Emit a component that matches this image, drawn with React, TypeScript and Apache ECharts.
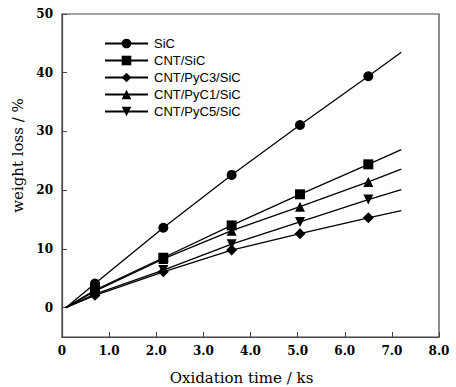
import React, { useEffect, useRef } from "react";
import * as echarts from "echarts";

const xStart = 0.08;
const xMarks = [0.7, 2.15, 3.6, 5.05, 6.5];
const xEnd = 7.2;

const seriesNames = ["SiC", "CNT/SiC", "CNT/PyC3/SiC", "CNT/PyC1/SiC", "CNT/PyC5/SiC"];
const sicVals = [4.1, 13.6, 22.6, 31.1, 39.4];
const sicEnd = 43.5;
const cntVals = [3.0, 8.5, 14.0, 19.3, 24.4];
const cntEnd = 26.9;
const pyc3Vals = [2.1, 6.1, 9.8, 12.6, 15.3];
const pyc3End = 16.5;
const pyc1Vals = [2.8, 8.3, 13.1, 17.2, 21.4];
const pyc1End = 23.6;
const pyc5Vals = [2.3, 6.4, 10.8, 14.6, 18.4];
const pyc5End = 20.1;

const yTicks = [0, 10, 20, 30, 40, 50];

const symbols = ["circle", "rect", "diamond", "triangle", "triangle"];
const rotations = [0, 0, 0, 0, 180];
const sizes = [10, 10, 11, 10, 10];

function build(vals: number[], end: number) {
  const d: any[] = [{ value: [xStart, 0], symbol: "none" }];
  xMarks.forEach((x, i) => d.push({ value: [x, vals[i]] }));
  d.push({ value: [xEnd, end], symbol: "none" });
  return d;
}

export default function App() {
  const ref = useRef<HTMLDivElement>(null);
  useEffect(() => {
    if (!ref.current) return;
    document.body.style.margin = "0";
    const chart = echarts.init(ref.current, null, { renderer: "svg" });
    const all = [
      [sicVals, sicEnd],
      [cntVals, cntEnd],
      [pyc3Vals, pyc3End],
      [pyc1Vals, pyc1End],
      [pyc5Vals, pyc5End],
    ] as [number[], number][];
    const tickFont = { fontFamily: "DejaVu Serif", fontWeight: "bold" as const, fontSize: 12, color: "#000" };
    chart.setOption({
      animation: false,
      grid: {
        left: 62, top: 14, right: 17, bottom: 50,
        show: true, borderColor: "#444", borderWidth: 1.2,
        outerBoundsMode: "none", containLabel: false,
      },
      legend: {
        show: true,
        orient: "vertical",
        left: 99,
        top: 32,
        itemWidth: 43,
        itemHeight: 12,
        itemGap: 4,
        textStyle: { fontFamily: "Liberation Sans", fontSize: 13, color: "#000", padding: [0, 0, 0, 1] },
        data: seriesNames,
      },
      xAxis: {
        type: "value",
        min: 0,
        max: 8,
        interval: 1,
        name: "Oxidation time / ks",
        nameLocation: "middle",
        nameGap: 33,
        nameTextStyle: { fontFamily: "DejaVu Serif", fontSize: 15, color: "#000", padding: [0, 18, 0, 0] },
        axisLine: { show: true, onZero: false, lineStyle: { color: "#444", width: 1.2 } },
        axisTick: { show: true, inside: true, length: 5, lineStyle: { color: "#444" } },
        axisLabel: {
          ...tickFont,
          margin: 8,
          formatter: (v: number) => (v === 0 ? "0" : v.toFixed(1)),
        },
        splitLine: { show: false },
      },
      yAxis: {
        type: "value",
        min: -5,
        max: 50,
        name: "weight loss / %",
        nameLocation: "middle",
        nameGap: 30,
        nameTextStyle: { fontFamily: "DejaVu Serif", fontSize: 15, color: "#000", padding: [0, 0, 0, 40] },
        axisLine: { show: true, onZero: false, lineStyle: { color: "#444", width: 1.2 } },
        axisTick: { show: true, inside: true, length: 5, customValues: yTicks, lineStyle: { color: "#444" } },
        axisLabel: { ...tickFont, margin: 9, customValues: yTicks },
        splitLine: { show: false },
      },
      series: all.map(([vals, end], i) => ({
        name: seriesNames[i],
        type: "line",
        data: build(vals, end),
        symbol: symbols[i],
        symbolRotate: rotations[i],
        symbolSize: sizes[i],
        showAllSymbol: true,
        lineStyle: { color: "#000", width: 1.3 },
        itemStyle: { color: "#000" },
        emphasis: { disabled: true },
      })),
    });
    return () => chart.dispose();
  }, []);
  return <div ref={ref} style={{ width: 456, height: 387 }} />;
}
